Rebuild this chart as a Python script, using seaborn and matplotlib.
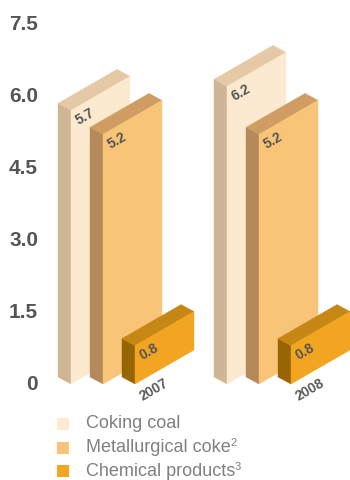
import matplotlib
matplotlib.use("Agg")
import matplotlib.pyplot as plt
import seaborn as sns
import pandas as pd
from matplotlib.patches import Rectangle

# --- data -------------------------------------------------------------
years = ["2007", "2008"]
series = ["Coking coal", "Metallurgical coke", "Chemical products"]
coking_coal = [5.7, 6.2]
metallurgical_coke = [5.2, 5.2]
chemical_products = [0.8, 0.8]
value_labels = {
    "Coking coal": ["5.7", "6.2"],
    "Metallurgical coke": ["5.2", "5.2"],
    "Chemical products": ["0.8", "0.8"],
}
y_ticks = [0, 1.5, 3.0, 4.5, 6.0, 7.5]
y_tick_labels = ["0", "1.5", "3.0", "4.5", "6.0", "7.5"]
legend_labels = ["Coking coal", "Metallurgical coke", "Chemical products"]
legend_notes = ["", "2", "3"]

df = pd.DataFrame({
    "year": years * 3,
    "series": [s for s in series for _ in years],
    "value": coking_coal + metallurgical_coke + chemical_products,
})

# --- styling ----------------------------------------------------------
sns.set_theme(style="white")
plt.rcParams["font.family"] = ["Liberation Sans", "DejaVu Sans"]

faces = {  # front, side, top
    "Coking coal": ("#FBEACF", "#CFB596", "#E5C8A5"),
    "Metallurgical coke": ("#F8C578", "#B5895A", "#CF9C62"),
    "Chemical products": ("#F1A520", "#976504", "#C68714"),
}
legend_colors = ["#FCEBD2", "#F8C578", "#F1A520"]

# geometry of the isometric slabs (x in pixels, y converted from pixels)
PX = 1 / 48.0            # one pixel in value units
FRONT_W = 59             # front face width
RISE = 34 * PX           # rise of the front face over its width
DEPTH_X, DEPTH_Y = -13, 7 * PX
GROUP_X = {"2007": 71, "2008": 227}
SERIES_STEP = 32

fig = plt.figure(figsize=(3.5, 4.8), dpi=100)
ax = fig.add_axes([0, 0, 1, 1])
ax.set_xlim(0, 350)
ax.set_ylim(-2, 8)
ax.axis("off")

for year in years:
    for i, s in enumerate(series):
        v = df.loc[(df.year == year) & (df.series == s), "value"].iloc[0]
        xl = GROUP_X[year] + i * SERIES_STEP
        xr = xl + FRONT_W
        front_c, side_c, top_c = faces[s]
        # left side face
        ax.fill([xl, xl, xl + DEPTH_X, xl + DEPTH_X],
                [0, v, v + DEPTH_Y, DEPTH_Y],
                color=side_c, lw=0.3, ec=side_c)
        # top face
        ax.fill([xl, xr, xr + DEPTH_X, xl + DEPTH_X],
                [v, v + RISE, v + RISE + DEPTH_Y, v + DEPTH_Y],
                color=top_c, lw=0.3, ec=top_c)
        # front face
        ax.fill([xl, xr, xr, xl],
                [0, RISE, v + RISE, v],
                color=front_c, lw=0.3, ec=front_c)
        ax.text(xl + 14, v - 6 * PX, value_labels[s][years.index(year)],
                rotation=30, ha="center", va="center", rotation_mode="anchor",
                fontsize=10, fontweight="bold", color="#555555")
    xl_chem = GROUP_X[year] + 2 * SERIES_STEP
    ax.text(xl_chem + 19, -6 * PX, year, rotation=30,
            ha="center", va="center", rotation_mode="anchor",
            fontsize=10, fontweight="bold", color="#5a5a5a")

for t, lab in zip(y_ticks, y_tick_labels):
    ax.text(38, t, lab, ha="right", va="center", fontsize=15,
            fontweight="bold", color="#555555")

# legend with small superscript footnote marks
fig.canvas.draw()
renderer = fig.canvas.get_renderer()
for k, (lab, note, c) in enumerate(zip(legend_labels, legend_notes, legend_colors)):
    yc = -(40 + k * 23.5) * PX
    ax.add_patch(Rectangle((57, yc - 6 * PX), 12, 12 * PX, color=c, lw=0))
    t = ax.text(86, yc, lab, ha="left", va="center", fontsize=13,
                color="#808080")
    if note:
        bb = t.get_window_extent(renderer=renderer)
        x_end = ax.transData.inverted().transform((bb.x1, bb.y1))[0]
        ax.text(x_end - 0.5, yc + 4 * PX, note, ha="left", va="center",
                fontsize=8, color="#808080")

fig.savefig("out.png", dpi=100)
